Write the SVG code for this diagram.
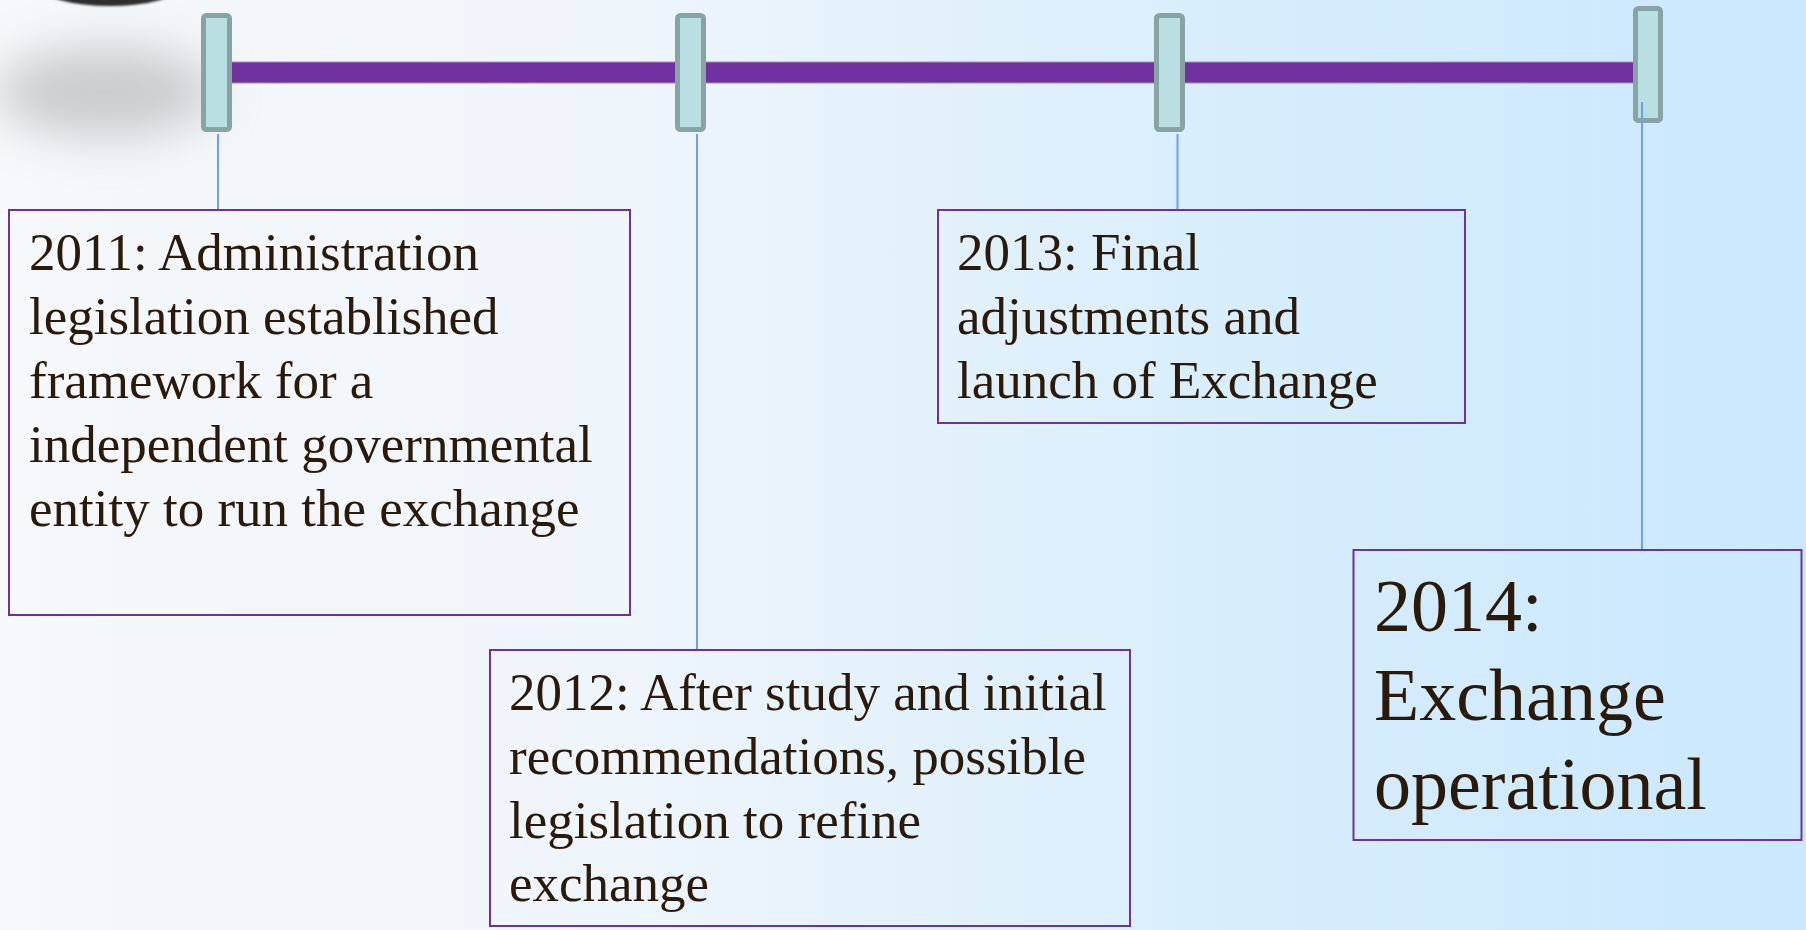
<svg xmlns="http://www.w3.org/2000/svg" width="1806" height="930" viewBox="0 0 1806 930">
<defs>
<linearGradient id="bg" x1="0" y1="0" x2="1" y2="0">
<stop offset="0" stop-color="#f6f8fa"/>
<stop offset="0.35" stop-color="#eef5fb"/>
<stop offset="0.7" stop-color="#d6edfc"/>
<stop offset="1" stop-color="#cbe8fe"/>
</linearGradient>
<filter id="blur" x="-50%" y="-80%" width="200%" height="260%"><feGaussianBlur stdDeviation="24"/></filter>
<filter id="soft" x="-20%" y="-20%" width="140%" height="140%"><feGaussianBlur stdDeviation="1.2"/></filter>
<style>
.marker{fill:#b9dfe2;stroke:#88a3a4;stroke-width:5}
.conn{stroke:#6f9ff0;stroke-width:2;fill:none}
.box{stroke:#7030a0;stroke-width:2}
.t{font-family:"Liberation Serif","Times New Roman",serif;fill:#2b1a0a;font-size:53px}
.big{font-size:74px}
</style>
</defs>
<rect width="1806" height="930" fill="url(#bg)"/>
<g id="decor">
<ellipse cx="105" cy="92" rx="110" ry="45" fill="#a8a8a8" opacity="0.55" filter="url(#blur)"/>
<ellipse cx="110" cy="-14" rx="70" ry="20" fill="#2e2e2e" filter="url(#soft)"/>
</g>
<g id="timeline-bar">
<rect x="225" y="62" width="1412" height="21" fill="#7030a0" stroke="#9a9aa8" stroke-width="1"/>
</g>
<g id="markers">
<rect id="m2011" class="marker" x="203.5" y="15.5" width="26" height="114" rx="3"/>
<rect id="m2012" class="marker" x="677.5" y="15.5" width="26" height="114" rx="3"/>
<rect id="m2013" class="marker" x="1156.5" y="15.5" width="26" height="114" rx="3"/>
<rect id="m2014" class="marker" x="1635.5" y="8.5" width="25" height="112" rx="3"/>
</g>
<g id="connectors">
<line class="conn" x1="218" y1="134" x2="218" y2="210"/>
<line class="conn" x1="697" y1="134" x2="697" y2="650"/>
<line class="conn" x1="1177.5" y1="134" x2="1177.5" y2="210"/>
<line class="conn" x1="1642" y1="102" x2="1642" y2="550"/>
</g>
<g id="node-2011">
<rect class="box" x="9" y="210" width="621" height="405" fill="none"/>
<text class="t" x="29"><tspan x="29" y="270">2011: Administration</tspan><tspan x="29" y="334">legislation established</tspan><tspan x="29" y="398">framework for a</tspan><tspan x="29" y="462">independent governmental</tspan><tspan x="29" y="526">entity to run the exchange</tspan></text>
</g>
<g id="node-2012">
<rect class="box" x="490" y="650" width="640" height="276" fill="none"/>
<text class="t"><tspan x="509" y="710">2012: After study and initial</tspan><tspan x="509" y="774">recommendations, possible</tspan><tspan x="509" y="838">legislation to refine</tspan><tspan x="509" y="901">exchange</tspan></text>
</g>
<g id="node-2013">
<rect class="box" x="938" y="210" width="527" height="213" fill="none"/>
<text class="t"><tspan x="957" y="270">2013: Final</tspan><tspan x="957" y="334">adjustments and</tspan><tspan x="957" y="398">launch of Exchange</tspan></text>
</g>
<g id="node-2014">
<rect class="box" x="1353.5" y="550" width="448" height="290" fill="none"/>
<text class="t big"><tspan x="1374" y="631">2014:</tspan><tspan x="1374" y="720">Exchange</tspan><tspan x="1374" y="809">operational</tspan></text>
</g>
</svg>
